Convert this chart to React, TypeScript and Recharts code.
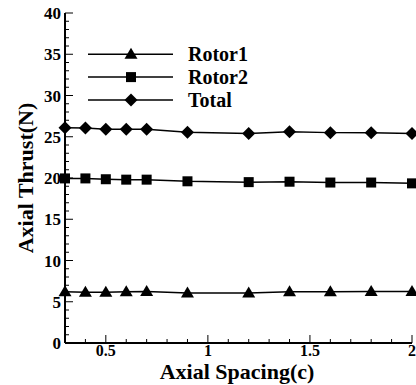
import React from 'react';
import { LineChart, Line, XAxis, YAxis } from 'recharts';

const spacing = [0.3, 0.4, 0.5, 0.6, 0.7, 0.9, 1.2, 1.4, 1.6, 1.8, 2.0];
const rotor1 = [6.2, 6.15, 6.15, 6.2, 6.25, 6.05, 6.05, 6.2, 6.2, 6.25, 6.25];
const rotor2 = [19.95, 19.95, 19.85, 19.8, 19.8, 19.6, 19.5, 19.55, 19.45, 19.45, 19.35];
const total = [26.1, 26.05, 25.9, 25.9, 25.9, 25.55, 25.4, 25.6, 25.5, 25.5, 25.4];

const seriesNames = ['Rotor1', 'Rotor2', 'Total'];
const seriesKeys = ['rotor1', 'rotor2', 'total'];
const seriesShapes = ['triangle', 'square', 'diamond'];

const xTicks = [0.3, 0.4, 0.5, 0.6, 0.7, 0.8, 0.9, 1.0, 1.1, 1.2, 1.3, 1.4, 1.5, 1.6, 1.7, 1.8, 1.9, 2.0];
const xLabels = [0.5, 1, 1.5, 2];
const yTicks = [
  0, 1, 2, 3, 4, 5, 6, 7, 8, 9, 10, 11, 12, 13, 14, 15, 16, 17, 18, 19, 20,
  21, 22, 23, 24, 25, 26, 27, 28, 29, 30, 31, 32, 33, 34, 35, 36, 37, 38, 39, 40,
];
const yLabels = [0, 5, 10, 15, 20, 25, 30, 35, 40];

const data = spacing.map((x, i) => ({ x, rotor1: rotor1[i], rotor2: rotor2[i], total: total[i] }));

const FONT = "'Liberation Serif', 'Times New Roman', serif";

function Marker({ shape, cx, cy }: { shape: string; cx: number; cy: number }) {
  if (shape === 'triangle') {
    return <polygon points={`${cx},${cy - 6.5} ${cx - 6.5},${cy + 4.5} ${cx + 6.5},${cy + 4.5}`} fill="#000" />;
  }
  if (shape === 'square') {
    return <rect x={cx - 5} y={cy - 5} width={10} height={10} fill="#000" />;
  }
  return <polygon points={`${cx},${cy - 6.5} ${cx + 6.5},${cy} ${cx},${cy + 6.5} ${cx - 6.5},${cy}`} fill="#000" />;
}

function XTick(props: any) {
  const { x, y, payload } = props;
  const v = payload.value;
  const major = xLabels.some((l) => Math.abs(l - v) < 1e-6);
  return (
    <g>
      <line x1={x} y1={y} x2={x} y2={y - (major ? 8 : 4)} stroke="#000" strokeWidth={1} />
      {major && (
        <text x={x} y={y + 13} textAnchor="middle" style={{ fontFamily: FONT, fontWeight: 'bold', fontSize: 16 }} fill="#000">
          {String(v)}
        </text>
      )}
    </g>
  );
}

function YTick(props: any) {
  const { x, y, payload } = props;
  const v = payload.value;
  const major = yLabels.includes(v);
  return (
    <g>
      <line x1={x} y1={y} x2={x + (major ? 8 : 4)} y2={y} stroke="#000" strokeWidth={1} />
      {major && (
        <text x={x - 4} y={y + 6} textAnchor="end" style={{ fontFamily: FONT, fontWeight: 'bold', fontSize: 17 }} fill="#000">
          {String(v)}
        </text>
      )}
    </g>
  );
}

export default function App() {
  return (
    <div style={{ position: 'absolute', left: 0, top: 0, width: 416, height: 385, background: '#fff' }}>
      <LineChart width={416} height={385} data={data} margin={{ top: 13, right: 4, left: 0, bottom: 0 }}>
        <XAxis
          dataKey="x"
          type="number"
          domain={[0.3, 2]}
          ticks={xTicks}
          interval={0}
          tickSize={0}
          tickMargin={0}
          tickLine={false}
          tick={<XTick />}
          axisLine={{ stroke: '#000', strokeWidth: 2 }}
          height={42}
        />
        <XAxis
          xAxisId="top"
          orientation="top"
          dataKey="x"
          type="number"
          domain={[0.3, 2]}
          tick={false}
          tickLine={false}
          axisLine={{ stroke: '#000', strokeWidth: 1.5 }}
          height={0}
        />
        <YAxis
          type="number"
          domain={[0, 40]}
          ticks={yTicks}
          interval={0}
          tickSize={0}
          tickMargin={0}
          tickLine={false}
          tick={<YTick />}
          axisLine={{ stroke: '#000', strokeWidth: 2 }}
          width={65}
        />
        <YAxis
          yAxisId="right"
          orientation="right"
          type="number"
          domain={[0, 40]}
          tick={false}
          tickLine={false}
          axisLine={{ stroke: '#000', strokeWidth: 1.5 }}
          width={0}
        />
        {seriesKeys.map((k, i) => (
          <Line
            key={k}
            dataKey={k}
            name={seriesNames[i]}
            stroke="#000"
            strokeWidth={1.5}
            isAnimationActive={false}
            dot={(p: any) => <Marker key={`${k}-${p.index}`} shape={seriesShapes[i]} cx={p.cx} cy={p.cy} />}
            activeDot={false}
          />
        ))}
        <g>
          {seriesNames.map((name, i) => {
            const cy = 54.3 + i * 22.8;
            return (
              <g key={name}>
                <line x1={88} y1={cy} x2={173} y2={cy} stroke="#000" strokeWidth={1.5} />
                <Marker shape={seriesShapes[i]} cx={131} cy={cy} />
                <text x={188} y={cy + 7} style={{ fontFamily: FONT, fontWeight: 'bold', fontSize: 20 }} fill="#000">
                  {name}
                </text>
              </g>
            );
          })}
        </g>
        <text
          x={237}
          y={379}
          textAnchor="middle"
          style={{ fontFamily: FONT, fontWeight: 'bold', fontSize: 22 }}
          fill="#000"
        >
          Axial Spacing(c)
        </text>
        <text
          x={33}
          y={178}
          transform="rotate(-90, 33, 178)"
          textAnchor="middle"
          style={{ fontFamily: FONT, fontWeight: 'bold', fontSize: 22 }}
          fill="#000"
        >
          Axial Thrust(N)
        </text>
      </LineChart>
    </div>
  );
}
